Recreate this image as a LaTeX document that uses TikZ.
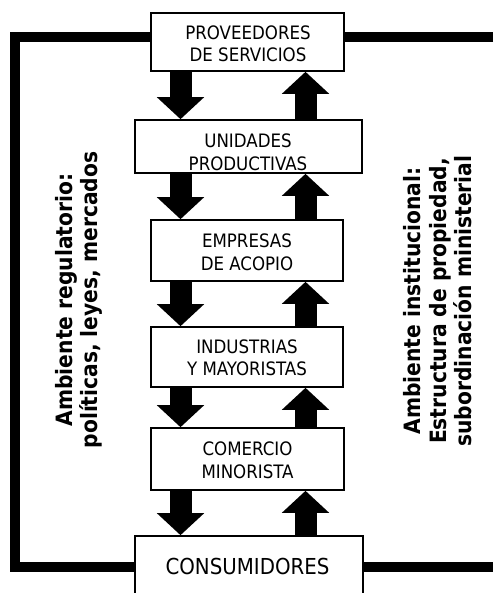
\documentclass[tikz,border=0pt]{standalone}
\usepackage{fontspec}
\setmainfont{DejaVuSansCondensed}[Extension=.ttf, BoldFont=DejaVuSansCondensed-Bold]
\usetikzlibrary{arrows.meta}
\begin{document}
\begin{tikzpicture}[x=1pt,y=-1pt,
  frame/.style={line width=10pt, line join=miter},
  stage/.style={draw, line width=1.6pt, fill=white, inner sep=0pt},
  stagetext/.style={align=center, font=\fontsize{18.5}{22.5}\selectfont, inner sep=0pt},
  flow/.style={line width=22pt, -{Triangle[width=46pt,length=22pt]}},
  side/.style={rotate=90, align=center, font=\bfseries\fontsize{22.5}{25.5}\selectfont, inner sep=0pt}]
\useasboundingbox (0,0) rectangle (493,593);
\clip (0,0) rectangle (493,593);

% outer environment frame
\coordinate (ftr) at (493,37.5);
\coordinate (ftl) at (15,37.5);
\coordinate (fbl) at (15,567);
\coordinate (fbr) at (493,567);
\draw[frame] (ftr) -- (ftl) -- (fbl) -- (fbr);

% chain stages
\node[stage, minimum width=193pt, minimum height=58pt] (prov) at (247.5,42) {};
\node[stage, minimum width=227pt, minimum height=53pt] (unid) at (248.5,146.5) {};
\node[stage, minimum width=192pt, minimum height=61pt] (empr) at (247,250.5) {};
\node[stage, minimum width=192pt, minimum height=60pt] (indu) at (247,357) {};
\node[stage, minimum width=193pt, minimum height=62pt] (come) at (247.5,459) {};
\node[stage, minimum width=228pt, minimum height=60pt] (cons) at (249,566) {};

\node[stagetext] (provt) at (248,44) {PROVEEDORES\\DE SERVICIOS};
\node[stagetext] (unidt) at (248,152.5) {UNIDADES\\PRODUCTIVAS};
\node[stagetext] (emprt) at (247,252.5) {EMPRESAS\\DE ACOPIO};
\node[stagetext] (indut) at (247,358) {INDUSTRIAS\\Y MAYORISTAS};
\node[stagetext] (comet) at (247.5,460.5) {COMERCIO\\MINORISTA};
\node[stagetext, font=\fontsize{22}{26}\selectfont] (const) at (247.5,566.5) {CONSUMIDORES};

% flows down and up the chain
\coordinate (dn) at (180.5,0);
\coordinate (up) at (305.5,0);
\foreach \a/\b in {prov/unid, unid/empr, empr/indu, indu/come, come/cons}{
  \draw[flow] (\a.south -| dn) -- (\b.north -| dn);
  \draw[flow] (\b.north -| up) -- (\a.south -| up);
}

% environment labels
\node[side] (regl) at (79,300) {Ambiente regulatorio:\\políticas, leyes, mercados};
\node[side] (inst) at (438,301) {Ambiente institucional:\\Estructura de propiedad,\\subordinación ministerial};
\end{tikzpicture}
\end{document}
